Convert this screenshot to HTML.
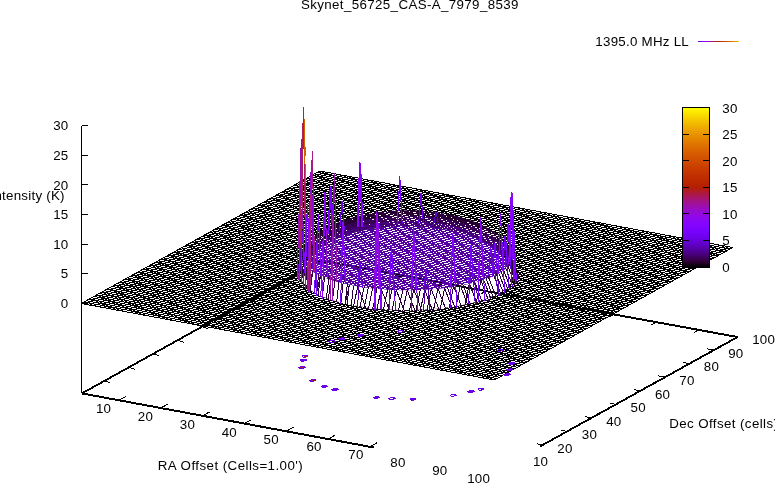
<!DOCTYPE html>
<html><head><meta charset="utf-8"><title>Skynet_56725_CAS-A_7979_8539</title>
<style>
html,body{margin:0;padding:0;background:#fff;}
body{width:775px;height:483px;position:relative;overflow:hidden;font-family:"Liberation Sans",sans-serif;color:#000;}
.t{position:absolute;white-space:nowrap;line-height:15px;height:15px;}
</style></head><body>
<svg width="775" height="483" viewBox="0 0 775 483" style="position:absolute;left:0;top:0">
<defs>
<clipPath id="cm"><path clip-rule="evenodd" d="M-10 -10 L785 -10 L785 493 L-10 493 Z M301 276 L301.1 277.2 L301.2 278.3 L301.6 279.5 L302 280.7 L302.6 281.9 L303.3 283 L304.1 284.2 L305.1 285.4 L306.2 286.5 L307.4 287.6 L308.7 288.7 L310.2 289.8 L311.7 290.9 L313.4 291.9 L315.2 293 L317.1 294 L319.1 295 L321.2 296 L323.5 296.9 L325.8 297.8 L328.2 298.7 L330.7 299.6 L333.4 300.5 L336.1 301.3 L338.9 302 L341.7 302.8 L344.7 303.5 L347.7 304.2 L350.8 304.8 L354 305.4 L357.3 306 L360.6 306.6 L363.9 307.1 L367.3 307.5 L370.8 308 L374.3 308.3 L377.8 308.7 L381.4 309 L385 309.3 L388.6 309.5 L392.3 309.7 L396 309.8 L399.7 309.9 L403.4 310 L407.1 310 L410.8 310 L414.5 309.9 L418.1 309.8 L421.8 309.7 L425.5 309.5 L429.1 309.3 L432.7 309 L436.3 308.7 L439.8 308.4 L443.3 308 L446.8 307.5 L450.2 307.1 L453.6 306.6 L456.9 306 L460.1 305.5 L463.3 304.8 L466.4 304.2 L469.4 303.5 L472.4 302.8 L475.3 302.1 L478 301.3 L480.8 300.5 L483.4 299.6 L485.9 298.8 L488.3 297.9 L490.7 296.9 L492.9 296 L495 295 L497 294 L498.9 293 L500.7 292 L502.4 290.9 L504 289.8 L505.4 288.7 L506.8 287.6 L508 286.5 L509 285.4 L510 284.2 L510.8 283.1 L511.5 281.9 L512.1 280.7 L512.6 279.5 L512.9 278.4 L513.1 277.2 L513.2 276 L513.2 276 L513.1 274.5 L512.9 273 L512.6 271.4 L512.1 269.9 L511.6 268.4 L510.8 267 L510 265.5 L509.1 264 L508 262.5 L506.8 260.7 L505.4 258.8 L504 256.9 L502.4 255 L500.8 253 L499 251 L497.1 249.5 L495 248.1 L492.9 246.6 L490.7 245.2 L488.4 243.9 L485.9 242.5 L483.4 241.3 L480.8 240 L478.1 238.8 L475.3 237.7 L472.4 236.6 L469.4 235.5 L466.4 234.5 L463.3 233.6 L460.1 232.7 L456.9 231.8 L453.6 231 L450.2 230.3 L446.8 229.6 L443.4 229 L439.9 228.4 L436.3 227.9 L432.8 227.4 L429.2 227 L425.5 226.7 L421.9 226.4 L418.2 226.2 L414.5 226.1 L410.8 226 L407.1 225.9 L403.4 226 L399.7 226.1 L396 226.2 L392.3 226.4 L388.7 226.7 L385 227 L381.4 227.4 L377.9 227.9 L374.3 228.4 L370.8 229 L367.4 229.6 L363.9 230.3 L360.6 231 L357.3 231.8 L354 232.7 L350.9 233.6 L347.8 234.5 L344.7 235.5 L341.8 236.6 L338.9 237.7 L336.1 238.8 L333.4 240 L330.8 241.3 L328.2 242.5 L325.8 243.9 L323.5 245.2 L321.3 246.6 L319.1 248.1 L317.1 249.5 L315.2 251 L313.4 253 L311.7 255 L310.2 256.9 L308.7 258.8 L307.4 260.6 L306.2 262.5 L305.1 264 L304.1 265.5 L303.3 266.9 L302.6 268.4 L302 269.9 L301.6 271.4 L301.2 272.9 L301.1 274.5 L301 276 Z"/></clipPath>
<clipPath id="ct"><polygon points="301,256.3 301.1,257.5 301.2,258.6 301.6,259.8 302,261 302.6,262.2 303.3,263.3 304.1,264.5 305.1,265.7 306.2,266.8 307.4,267.9 308.7,269 310.2,270.1 311.7,271.2 313.4,272.2 315.2,273.3 317.1,274.3 319.1,275.3 321.2,276.3 323.5,277.2 325.8,278.1 328.2,279 330.7,279.9 333.4,280.8 336.1,281.6 338.9,282.3 341.7,283.1 344.7,283.8 347.7,284.5 350.8,285.1 354,285.7 357.3,286.3 360.6,286.9 363.9,287.4 367.3,287.8 370.8,288.3 374.3,288.6 377.8,289 381.4,289.3 385,289.6 388.6,289.8 392.3,290 396,290.1 399.7,290.2 403.4,290.3 407.1,290.3 410.8,290.3 414.5,290.2 418.1,290.1 421.8,290 425.5,289.8 429.1,289.6 432.7,289.3 436.3,289 439.8,288.7 443.3,288.3 446.8,287.8 450.2,287.4 453.6,286.9 456.9,286.3 460.1,285.8 463.3,285.1 466.4,284.5 469.4,283.8 472.4,283.1 475.3,282.4 478,281.6 480.8,280.8 483.4,279.9 485.9,279.1 488.3,278.2 490.7,277.2 492.9,276.3 495,275.3 497,274.3 498.9,273.3 500.7,272.3 502.4,271.2 504,270.1 505.4,269 506.8,267.9 508,266.8 509,265.7 510,264.5 510.8,263.4 511.5,262.2 512.1,261 512.6,259.8 512.9,258.7 513.1,257.5 513.2,256.3 513.2,256.3 513.1,255.1 512.9,253.9 512.6,252.7 512.1,251.5 511.6,250.4 510.8,249.2 510,248 509.1,246.9 508,245.6 506.8,244 505.4,242.3 504,240.7 502.4,239.1 500.8,237.6 499,236 497.1,234.5 495,233.1 492.9,231.6 490.7,230.2 488.4,228.9 485.9,227.5 483.4,226.3 480.8,225 478.1,223.8 475.3,222.7 472.4,221.6 469.4,220.5 466.4,219.5 463.3,218.6 460.1,217.7 456.9,216.8 453.6,216 450.2,215.3 446.8,214.6 443.4,214 439.9,213.4 436.3,212.9 432.8,212.4 429.2,212 425.5,211.7 421.9,211.4 418.2,211.2 414.5,211.1 410.8,211 407.1,210.9 403.4,211 399.7,211.1 396,211.2 392.3,211.4 388.7,211.7 385,212 381.4,212.4 377.9,212.9 374.3,213.4 370.8,214 367.4,214.6 363.9,215.3 360.6,216 357.3,216.8 354,217.7 350.9,218.6 347.8,219.5 344.7,220.5 341.8,221.6 338.9,222.7 336.1,223.8 333.4,225 330.8,226.3 328.2,227.5 325.8,228.9 323.5,230.2 321.3,231.6 319.1,233.1 317.1,234.5 315.2,236 313.4,237.6 311.7,239.1 310.2,240.7 308.7,242.3 307.4,243.9 306.2,245.6 305.1,246.9 304.1,248 303.3,249.2 302.6,250.4 302,251.5 301.6,252.7 301.2,253.9 301.1,255.1 301,256.3"/></clipPath>
<clipPath id="cb0"><polygon points="513.2,256.3 513.1,255.1 512.9,253.8 512.6,252.6 512.1,251.4 511.6,250.2 510.8,249 510,247.8 509.1,246.6 508,245.2 506.8,243.6 505.4,241.9 504,240.2 502.4,238.6 500.8,237 499,235.4 497.1,233.9 495,232.5 492.9,231 490.7,229.6 488.4,228.3 485.9,226.9 483.4,225.7 480.8,224.4 478.1,223.2 475.3,222.1 472.4,221 469.4,219.9 466.4,218.9 463.3,218 460.1,217.1 456.9,216.2 453.6,215.4 450.2,214.7 446.8,214 443.4,213.4 439.9,212.8 436.3,212.3 432.8,211.8 429.2,211.4 425.5,211.1 421.9,210.8 418.2,210.6 414.5,210.5 410.8,210.4 407.1,210.3 403.4,210.4 399.7,210.5 396,210.6 392.3,210.8 388.7,211.1 385,211.4 381.4,211.8 377.9,212.3 374.3,212.8 370.8,213.4 367.4,214 363.9,214.7 360.6,215.4 357.3,216.2 354,217.1 350.9,218 347.8,218.9 344.7,219.9 341.8,221 338.9,222.1 336.1,223.2 333.4,224.4 330.8,225.7 328.2,226.9 325.8,228.3 323.5,229.6 321.3,231 319.1,232.5 317.1,233.9 315.2,235.4 313.4,237 311.7,238.6 310.2,240.2 308.7,241.9 307.4,243.5 306.2,245.2 305.1,246.6 304.1,247.7 303.3,248.9 302.6,250.1 302,251.4 301.6,252.6 301.2,253.8 301.1,255 301,256.3 301,256.3 301.1,255.4 301.2,254.6 301.6,253.8 302,252.9 302.6,252.1 303.3,251.3 304.1,250.5 305.1,249.6 306.2,248.7 307.4,247.4 308.7,246.1 310.2,244.8 311.7,243.5 313.4,242.2 315.2,241 317.1,239.5 319.1,238.1 321.3,236.6 323.5,235.2 325.8,233.9 328.2,232.5 330.8,231.3 333.4,230 336.1,228.8 338.9,227.7 341.8,226.6 344.7,225.5 347.8,224.5 350.9,223.6 354,222.7 357.3,221.8 360.6,221 363.9,220.3 367.4,219.6 370.8,219 374.3,218.4 377.9,217.9 381.4,217.4 385,217 388.7,216.7 392.3,216.4 396,216.2 399.7,216.1 403.4,216 407.1,215.9 410.8,216 414.5,216.1 418.2,216.2 421.9,216.4 425.5,216.7 429.2,217 432.8,217.4 436.3,217.9 439.9,218.4 443.4,219 446.8,219.6 450.2,220.3 453.6,221 456.9,221.8 460.1,222.7 463.3,223.6 466.4,224.5 469.4,225.5 472.4,226.6 475.3,227.7 478.1,228.8 480.8,230 483.4,231.3 485.9,232.5 488.4,233.9 490.7,235.2 492.9,236.6 495,238.1 497.1,239.5 499,241 500.8,242.3 502.4,243.5 504,244.8 505.4,246.1 506.8,247.4 508,248.7 509.1,249.7 510,250.5 510.8,251.3 511.6,252.1 512.1,252.9 512.6,253.8 512.9,254.6 513.1,255.4 513.2,256.3"/></clipPath>
<clipPath id="cb1"><polygon points="513.2,256.3 513.1,255.4 512.9,254.6 512.6,253.8 512.1,252.9 511.6,252.1 510.8,251.3 510,250.5 509.1,249.7 508,248.7 506.8,247.4 505.4,246.1 504,244.8 502.4,243.5 500.8,242.3 499,241 497.1,239.5 495,238.1 492.9,236.6 490.7,235.2 488.4,233.9 485.9,232.5 483.4,231.3 480.8,230 478.1,228.8 475.3,227.7 472.4,226.6 469.4,225.5 466.4,224.5 463.3,223.6 460.1,222.7 456.9,221.8 453.6,221 450.2,220.3 446.8,219.6 443.4,219 439.9,218.4 436.3,217.9 432.8,217.4 429.2,217 425.5,216.7 421.9,216.4 418.2,216.2 414.5,216.1 410.8,216 407.1,215.9 403.4,216 399.7,216.1 396,216.2 392.3,216.4 388.7,216.7 385,217 381.4,217.4 377.9,217.9 374.3,218.4 370.8,219 367.4,219.6 363.9,220.3 360.6,221 357.3,221.8 354,222.7 350.9,223.6 347.8,224.5 344.7,225.5 341.8,226.6 338.9,227.7 336.1,228.8 333.4,230 330.8,231.3 328.2,232.5 325.8,233.9 323.5,235.2 321.3,236.6 319.1,238.1 317.1,239.5 315.2,241 313.4,242.2 311.7,243.5 310.2,244.8 308.7,246.1 307.4,247.4 306.2,248.7 305.1,249.6 304.1,250.5 303.3,251.3 302.6,252.1 302,252.9 301.6,253.8 301.2,254.6 301.1,255.4 301,256.3 301,256.3 301.1,255.8 301.2,255.3 301.6,254.8 302,254.3 302.6,253.8 303.3,253.3 304.1,252.9 305.1,252.4 306.2,251.8 307.4,250.8 308.7,249.8 310.2,248.8 311.7,247.9 313.4,246.9 315.2,246 317.1,244.5 319.1,243.1 321.3,241.6 323.5,240.2 325.8,238.9 328.2,237.5 330.8,236.3 333.4,235 336.1,233.8 338.9,232.7 341.8,231.6 344.7,230.5 347.8,229.5 350.9,228.6 354,227.7 357.3,226.8 360.6,226 363.9,225.3 367.4,224.6 370.8,224 374.3,223.4 377.9,222.9 381.4,222.4 385,222 388.7,221.7 392.3,221.4 396,221.2 399.7,221.1 403.4,221 407.1,220.9 410.8,221 414.5,221.1 418.2,221.2 421.9,221.4 425.5,221.7 429.2,222 432.8,222.4 436.3,222.9 439.9,223.4 443.4,224 446.8,224.6 450.2,225.3 453.6,226 456.9,226.8 460.1,227.7 463.3,228.6 466.4,229.5 469.4,230.5 472.4,231.6 475.3,232.7 478.1,233.8 480.8,235 483.4,236.3 485.9,237.5 488.4,238.9 490.7,240.2 492.9,241.6 495,243.1 497.1,244.5 499,246 500.8,247 502.4,247.9 504,248.9 505.4,249.8 506.8,250.8 508,251.8 509.1,252.4 510,252.9 510.8,253.4 511.6,253.8 512.1,254.3 512.6,254.8 512.9,255.3 513.1,255.8 513.2,256.3"/></clipPath>
<clipPath id="cb2"><polygon points="513.2,256.3 513.1,255.8 512.9,255.3 512.6,254.8 512.1,254.3 511.6,253.8 510.8,253.4 510,252.9 509.1,252.4 508,251.8 506.8,250.8 505.4,249.8 504,248.9 502.4,247.9 500.8,247 499,246 497.1,244.5 495,243.1 492.9,241.6 490.7,240.2 488.4,238.9 485.9,237.5 483.4,236.3 480.8,235 478.1,233.8 475.3,232.7 472.4,231.6 469.4,230.5 466.4,229.5 463.3,228.6 460.1,227.7 456.9,226.8 453.6,226 450.2,225.3 446.8,224.6 443.4,224 439.9,223.4 436.3,222.9 432.8,222.4 429.2,222 425.5,221.7 421.9,221.4 418.2,221.2 414.5,221.1 410.8,221 407.1,220.9 403.4,221 399.7,221.1 396,221.2 392.3,221.4 388.7,221.7 385,222 381.4,222.4 377.9,222.9 374.3,223.4 370.8,224 367.4,224.6 363.9,225.3 360.6,226 357.3,226.8 354,227.7 350.9,228.6 347.8,229.5 344.7,230.5 341.8,231.6 338.9,232.7 336.1,233.8 333.4,235 330.8,236.3 328.2,237.5 325.8,238.9 323.5,240.2 321.3,241.6 319.1,243.1 317.1,244.5 315.2,246 313.4,246.9 311.7,247.9 310.2,248.8 308.7,249.8 307.4,250.8 306.2,251.8 305.1,252.4 304.1,252.9 303.3,253.3 302.6,253.8 302,254.3 301.6,254.8 301.2,255.3 301.1,255.8 301,256.3 301,256.3 301.1,256.1 301.2,256 301.6,255.8 302,255.7 302.6,255.6 303.3,255.4 304.1,255.3 305.1,255.2 306.2,254.9 307.4,254.2 308.7,253.6 310.2,252.9 311.7,252.3 313.4,251.6 315.2,251 317.1,249.5 319.1,248.1 321.3,246.6 323.5,245.2 325.8,243.9 328.2,242.5 330.8,241.3 333.4,240 336.1,238.8 338.9,237.7 341.8,236.6 344.7,235.5 347.8,234.5 350.9,233.6 354,232.7 357.3,231.8 360.6,231 363.9,230.3 367.4,229.6 370.8,229 374.3,228.4 377.9,227.9 381.4,227.4 385,227 388.7,226.7 392.3,226.4 396,226.2 399.7,226.1 403.4,226 407.1,225.9 410.8,226 414.5,226.1 418.2,226.2 421.9,226.4 425.5,226.7 429.2,227 432.8,227.4 436.3,227.9 439.9,228.4 443.4,229 446.8,229.6 450.2,230.3 453.6,231 456.9,231.8 460.1,232.7 463.3,233.6 466.4,234.5 469.4,235.5 472.4,236.6 475.3,237.7 478.1,238.8 480.8,240 483.4,241.3 485.9,242.5 488.4,243.9 490.7,245.2 492.9,246.6 495,248.1 497.1,249.5 499,251 500.8,251.7 502.4,252.3 504,252.9 505.4,253.6 506.8,254.2 508,254.9 509.1,255.2 510,255.3 510.8,255.4 511.6,255.6 512.1,255.7 512.6,255.9 512.9,256 513.1,256.1 513.2,256.3"/></clipPath>
<clipPath id="cb3"><polygon points="513.2,256.3 513.1,256.1 512.9,256 512.6,255.9 512.1,255.7 511.6,255.6 510.8,255.4 510,255.3 509.1,255.2 508,254.9 506.8,254.2 505.4,253.6 504,252.9 502.4,252.3 500.8,251.7 499,251 497.1,249.5 495,248.1 492.9,246.6 490.7,245.2 488.4,243.9 485.9,242.5 483.4,241.3 480.8,240 478.1,238.8 475.3,237.7 472.4,236.6 469.4,235.5 466.4,234.5 463.3,233.6 460.1,232.7 456.9,231.8 453.6,231 450.2,230.3 446.8,229.6 443.4,229 439.9,228.4 436.3,227.9 432.8,227.4 429.2,227 425.5,226.7 421.9,226.4 418.2,226.2 414.5,226.1 410.8,226 407.1,225.9 403.4,226 399.7,226.1 396,226.2 392.3,226.4 388.7,226.7 385,227 381.4,227.4 377.9,227.9 374.3,228.4 370.8,229 367.4,229.6 363.9,230.3 360.6,231 357.3,231.8 354,232.7 350.9,233.6 347.8,234.5 344.7,235.5 341.8,236.6 338.9,237.7 336.1,238.8 333.4,240 330.8,241.3 328.2,242.5 325.8,243.9 323.5,245.2 321.3,246.6 319.1,248.1 317.1,249.5 315.2,251 313.4,251.6 311.7,252.3 310.2,252.9 308.7,253.6 307.4,254.2 306.2,254.9 305.1,255.2 304.1,255.3 303.3,255.4 302.6,255.6 302,255.7 301.6,255.8 301.2,256 301.1,256.1 301,256.3 301,256.3 301.1,256.7 301.2,257.1 301.6,257.5 302,257.9 302.6,258.3 303.3,258.8 304.1,259.2 305.1,259.6 306.2,259.8 307.4,259.7 308.7,259.5 310.2,259.4 311.7,259.3 313.4,259.1 315.2,259 317.1,257.5 319.1,256.1 321.3,254.6 323.5,253.2 325.8,251.9 328.2,250.5 330.8,249.3 333.4,248 336.1,246.8 338.9,245.7 341.8,244.6 344.7,243.5 347.8,242.5 350.9,241.6 354,240.7 357.3,239.8 360.6,239 363.9,238.3 367.4,237.6 370.8,237 374.3,236.4 377.9,235.9 381.4,235.4 385,235 388.7,234.7 392.3,234.4 396,234.2 399.7,234.1 403.4,234 407.1,233.9 410.8,234 414.5,234.1 418.2,234.2 421.9,234.4 425.5,234.7 429.2,235 432.8,235.4 436.3,235.9 439.9,236.4 443.4,237 446.8,237.6 450.2,238.3 453.6,239 456.9,239.8 460.1,240.7 463.3,241.6 466.4,242.5 469.4,243.5 472.4,244.6 475.3,245.7 478.1,246.8 480.8,248 483.4,249.3 485.9,250.5 488.4,251.9 490.7,253.2 492.9,254.6 495,256.1 497.1,257.5 499,259 500.8,259.2 502.4,259.3 504,259.4 505.4,259.6 506.8,259.7 508,259.8 509.1,259.6 510,259.2 510.8,258.8 511.6,258.4 512.1,257.9 512.6,257.5 512.9,257.1 513.1,256.7 513.2,256.3"/></clipPath>
<linearGradient id="cbg" x1="0" y1="1" x2="0" y2="0">
<stop offset="0.0000" stop-color="#000000"/>
<stop offset="0.0333" stop-color="#2f0035"/>
<stop offset="0.0667" stop-color="#420068"/>
<stop offset="0.1000" stop-color="#510096"/>
<stop offset="0.1333" stop-color="#5d01be"/>
<stop offset="0.1667" stop-color="#6801dd"/>
<stop offset="0.2000" stop-color="#7202f3"/>
<stop offset="0.2333" stop-color="#7b03fe"/>
<stop offset="0.2667" stop-color="#8405fe"/>
<stop offset="0.3000" stop-color="#8c07f3"/>
<stop offset="0.3333" stop-color="#9309dd"/>
<stop offset="0.3667" stop-color="#9a0dbe"/>
<stop offset="0.4000" stop-color="#a11096"/>
<stop offset="0.4333" stop-color="#a81568"/>
<stop offset="0.4667" stop-color="#ae1a35"/>
<stop offset="0.5000" stop-color="#b42000"/>
<stop offset="0.5333" stop-color="#ba2700"/>
<stop offset="0.5667" stop-color="#c02e00"/>
<stop offset="0.6000" stop-color="#c63700"/>
<stop offset="0.6333" stop-color="#cb4100"/>
<stop offset="0.6667" stop-color="#d04c00"/>
<stop offset="0.7000" stop-color="#d55700"/>
<stop offset="0.7333" stop-color="#da6500"/>
<stop offset="0.7667" stop-color="#df7300"/>
<stop offset="0.8000" stop-color="#e48300"/>
<stop offset="0.8333" stop-color="#e99400"/>
<stop offset="0.8667" stop-color="#eda600"/>
<stop offset="0.9000" stop-color="#f2ba00"/>
<stop offset="0.9333" stop-color="#f6cf00"/>
<stop offset="0.9667" stop-color="#fbe600"/>
<stop offset="1.0000" stop-color="#ffff00"/>
</linearGradient>
<linearGradient id="lg" x1="0" y1="0" x2="1" y2="0">
<stop offset="0.00" stop-color="#6801dd"/>
<stop offset="0.10" stop-color="#7d04fe"/>
<stop offset="0.20" stop-color="#8f08eb"/>
<stop offset="0.30" stop-color="#9f0fa7"/>
<stop offset="0.40" stop-color="#ad193f"/>
<stop offset="0.50" stop-color="#ba2700"/>
<stop offset="0.60" stop-color="#c73900"/>
<stop offset="0.70" stop-color="#d25000"/>
<stop offset="0.80" stop-color="#dd6d00"/>
<stop offset="0.90" stop-color="#e89000"/>
<stop offset="1.00" stop-color="#f2ba00"/>
</linearGradient>
</defs>
<g stroke="#000" stroke-width="1" fill="none" shape-rendering="crispEdges">
<path d="M81.5 125.5L81.5 392.9"/>
<path d="M81.5 125.5L88 125.5"/>
<path d="M81.5 155.2L88 155.2"/>
<path d="M81.5 184.8L88 184.8"/>
<path d="M81.5 214.4L88 214.4"/>
<path d="M81.5 244.1L88 244.1"/>
<path d="M81.5 273.8L88 273.8"/>
<path d="M81.5 303.4L88 303.4"/>
<path d="M81.9 392.9L320.5 260.4"/>
<path d="M81.9 393.9L320.5 261.4"/>
<path d="M320.5 260.4L737.6 336.5"/>
<path d="M320.5 261.4L737.6 337.5"/>
<path d="M81.9 392.9L373.8 447"/>
<path d="M81.9 393.9L373.8 448"/>
<path d="M539.5 446.2L737.6 336.5"/>
<path d="M539.5 447.2L737.6 337.5"/>
<path d="M119.8 399.8L125.8 396.5"/>
<path d="M161.7 407.5L167.7 404.2"/>
<path d="M203.6 415.2L209.6 411.9"/>
<path d="M245.5 422.9L251.5 419.6"/>
<path d="M287.4 430.6L293.4 427.3"/>
<path d="M329.3 438.3L335.3 435"/>
<path d="M371.2 446L377.2 442.7"/>
<path d="M104.2 380.5L110.4 382.8"/>
<path d="M128.6 367L134.8 369.3"/>
<path d="M153 353.5L159.2 355.8"/>
<path d="M177.4 340L183.6 342.3"/>
<path d="M201.8 326.5L208 328.8"/>
<path d="M226.2 313L232.4 315.3"/>
<path d="M250.6 299.5L256.8 301.8"/>
<path d="M275 286L281.2 288.3"/>
<path d="M299.4 272.5L305.6 274.8"/>
<path d="M358.8 267.4L353.4 270.5"/>
<path d="M401.4 275.2L396 278.3"/>
<path d="M443.9 282.9L438.5 286"/>
<path d="M486.5 290.7L481.1 293.8"/>
<path d="M529 298.4L523.6 301.6"/>
<path d="M571.6 306.2L566.2 309.3"/>
<path d="M614.2 314L608.8 317.1"/>
<path d="M656.7 321.7L651.3 324.8"/>
<path d="M699.3 329.5L693.9 332.6"/>
<path d="M542.7 445L536.5 443.7"/>
<path d="M567.1 431.4L560.9 430.1"/>
<path d="M591.4 417.9L585.2 416.6"/>
<path d="M615.8 404.3L609.6 403"/>
<path d="M640.1 390.8L633.9 389.5"/>
<path d="M664.5 377.2L658.3 375.9"/>
<path d="M688.9 363.6L682.7 362.3"/>
<path d="M713.2 350.1L707 348.8"/>
<path d="M737.6 336.5L731.4 335.2"/>
</g>
<g stroke="#000" stroke-width="1" fill="none" shape-rendering="crispEdges" clip-path="url(#cm)">
<path d="M81.3 303.5L494.3 380M83.9 302.1L496.8 378.6M86.4 300.7L499.4 377.2M89 299.2L502 375.8M91.6 297.8L504.5 374.3M94.1 296.4L507.1 372.9M96.7 295L509.7 371.5M99.3 293.5L512.2 370.1M101.8 292.1L514.8 368.6M104.4 290.7L517.4 367.2M106.9 289.3L519.9 365.8M109.5 287.8L522.5 364.4M112.1 286.4L525.1 362.9M114.6 285L527.6 361.5M117.2 283.6L530.2 360.1M119.8 282.1L532.7 358.7M122.3 280.7L535.3 357.2M124.9 279.3L537.9 355.8M127.5 277.9L540.4 354.4M130 276.4L543 353M132.6 275L545.6 351.5M135.2 273.6L548.1 350.1M137.7 272.2L550.7 348.7M140.3 270.7L553.3 347.3M142.9 269.3L555.8 345.8M145.4 267.9L558.4 344.4M148 266.5L561 343M150.6 265L563.5 341.6M153.1 263.6L566.1 340.1M155.7 262.2L568.7 338.7M158.2 260.8L571.2 337.3M160.8 259.3L573.8 335.9M163.4 257.9L576.3 334.4M165.9 256.5L578.9 333M168.5 255.1L581.5 331.6M171.1 253.6L584 330.2M173.6 252.2L586.6 328.7M176.2 250.8L589.2 327.3M178.8 249.4L591.7 325.9M181.3 247.9L594.3 324.5M183.9 246.5L596.9 323.1M186.5 245.1L599.4 321.6M189 243.7L602 320.2M191.6 242.2L604.6 318.8M194.2 240.8L607.1 317.4M196.7 239.4L609.7 315.9M199.3 238L612.3 314.5M201.8 236.5L614.8 313.1M204.4 235.1L617.4 311.7M207 233.7L620 310.2M209.5 232.3L622.5 308.8M212.1 230.8L625.1 307.4M214.7 229.4L627.6 306M217.2 228L630.2 304.5M219.8 226.6L632.8 303.1M222.4 225.1L635.3 301.7M224.9 223.7L637.9 300.3M227.5 222.3L640.5 298.8M230.1 220.9L643 297.4M232.6 219.4L645.6 296M235.2 218L648.2 294.6M237.8 216.6L650.7 293.1M240.3 215.2L653.3 291.7M242.9 213.7L655.9 290.3M245.5 212.3L658.4 288.9M248 210.9L661 287.4M250.6 209.5L663.6 286M253.1 208L666.1 284.6M255.7 206.6L668.7 283.2M258.3 205.2L671.2 281.7M260.8 203.8L673.8 280.3M263.4 202.3L676.4 278.9M266 200.9L678.9 277.5M268.5 199.5L681.5 276M271.1 198.1L684.1 274.6M273.7 196.6L686.6 273.2M276.2 195.2L689.2 271.8M278.8 193.8L691.8 270.3M281.4 192.4L694.3 268.9M283.9 190.9L696.9 267.5M286.5 189.5L699.5 266.1M289.1 188.1L702 264.6M291.6 186.7L704.6 263.2M294.2 185.3L707.2 261.8M296.7 183.8L709.7 260.4M299.3 182.4L712.3 258.9M301.9 181L714.8 257.5M304.4 179.6L717.4 256.1M307 178.1L720 254.7M309.6 176.7L722.5 253.2M312.1 175.3L725.1 251.8M314.7 173.9L727.7 250.4M317.3 172.4L730.2 249M319.8 171L732.8 247.5M81.3 303.5L319.8 171M85.7 304.3L324.3 171.8M90.2 305.1L328.7 172.6M94.6 306L333.2 173.5M99.1 306.8L337.6 174.3M103.5 307.6L342 175.1M107.9 308.4L346.5 175.9M112.4 309.3L350.9 176.8M116.8 310.1L355.4 177.6M121.3 310.9L359.8 178.4M125.7 311.7L364.2 179.2M130.1 312.6L368.7 180.1M134.6 313.4L373.1 180.9M139 314.2L377.6 181.7M143.5 315L382 182.5M147.9 315.8L386.4 183.3M152.3 316.7L390.9 184.2M156.8 317.5L395.3 185M161.2 318.3L399.8 185.8M165.7 319.1L404.2 186.6M170.1 320L408.6 187.5M174.6 320.8L413.1 188.3M179 321.6L417.5 189.1M183.4 322.4L422 189.9M187.9 323.3L426.4 190.8M192.3 324.1L430.8 191.6M196.8 324.9L435.3 192.4M201.2 325.7L439.7 193.2M205.6 326.5L444.2 194M210.1 327.4L448.6 194.9M214.5 328.2L453 195.7M219 329L457.5 196.5M223.4 329.8L461.9 197.3M227.8 330.7L466.4 198.2M232.3 331.5L470.8 199M236.7 332.3L475.3 199.8M241.2 333.1L479.7 200.6M245.6 334L484.1 201.5M250 334.8L488.6 202.3M254.5 335.6L493 203.1M258.9 336.4L497.5 203.9M263.4 337.2L501.9 204.7M267.8 338.1L506.3 205.6M272.2 338.9L510.8 206.4M276.7 339.7L515.2 207.2M281.1 340.5L519.7 208M285.6 341.4L524.1 208.9M290 342.2L528.5 209.7M294.4 343L533 210.5M298.9 343.8L537.4 211.3M303.3 344.6L541.9 212.2M307.8 345.5L546.3 213M312.2 346.3L550.7 213.8M316.6 347.1L555.2 214.6M321.1 347.9L559.6 215.4M325.5 348.8L564.1 216.3M330 349.6L568.5 217.1M334.4 350.4L572.9 217.9M338.9 351.2L577.4 218.7M343.3 352.1L581.8 219.6M347.7 352.9L586.3 220.4M352.2 353.7L590.7 221.2M356.6 354.5L595.1 222M361.1 355.3L599.6 222.9M365.5 356.2L604 223.7M369.9 357L608.5 224.5M374.4 357.8L612.9 225.3M378.8 358.6L617.3 226.1M383.3 359.5L621.8 227M387.7 360.3L626.2 227.8M392.1 361.1L630.7 228.6M396.6 361.9L635.1 229.4M401 362.8L639.6 230.3M405.5 363.6L644 231.1M409.9 364.4L648.4 231.9M414.3 365.2L652.9 232.7M418.8 366L657.3 233.6M423.2 366.9L661.8 234.4M427.7 367.7L666.2 235.2M432.1 368.5L670.6 236M436.5 369.3L675.1 236.8M441 370.2L679.5 237.7M445.4 371L684 238.5M449.9 371.8L688.4 239.3M454.3 372.6L692.8 240.1M458.7 373.5L697.3 241M463.2 374.3L701.7 241.8M467.6 375.1L706.2 242.6M472.1 375.9L710.6 243.4M476.5 376.7L715 244.3M481 377.6L719.5 245.1M485.4 378.4L723.9 245.9M489.8 379.2L728.4 246.7M494.3 380L732.8 247.5"/>
</g>
<g stroke="#5400a3" stroke-width="1" fill="none" shape-rendering="crispEdges" clip-path="url(#ct)">
<path d="M214.3 272L458.7 317.3M216.7 270.7L461.1 316M219.1 269.3L463.5 314.6M221.6 268L466 313.3M224 266.6L468.4 311.9M226.4 265.3L470.8 310.6M228.9 263.9L473.3 309.2M231.3 262.6L475.7 307.9M233.7 261.2L478.1 306.5M236.2 259.9L480.6 305.2M238.6 258.5L483 303.8M241 257.2L485.4 302.5M243.5 255.8L487.9 301.1M245.9 254.5L490.3 299.8M248.3 253.1L492.7 298.4M250.8 251.8L495.2 297M253.2 250.4L497.6 295.7M255.6 249L500.1 294.3M258.1 247.7L502.5 293M260.5 246.3L504.9 291.6M262.9 245L507.4 290.3M265.4 243.6L509.8 288.9M267.8 242.3L512.2 287.6M270.2 240.9L514.7 286.2M272.7 239.6L517.1 284.9M275.1 238.2L519.5 283.5M277.5 236.9L522 282.2M280 235.5L524.4 280.8M282.4 234.2L526.8 279.5M284.8 232.8L529.3 278.1M287.3 231.5L531.7 276.8M289.7 230.1L534.1 275.4M292.1 228.8L536.6 274.1M294.6 227.4L539 272.7M297 226.1L541.4 271.4M299.4 224.7L543.9 270M301.9 223.4L546.3 268.7M304.3 222L548.7 267.3M306.8 220.7L551.2 266M309.2 219.3L553.6 264.6M311.6 217.9L556 263.2M314.1 216.6L558.5 261.9M316.5 215.2L560.9 260.5M318.9 213.9L563.3 259.2M321.4 212.5L565.8 257.8M323.8 211.2L568.2 256.5M326.2 209.8L570.6 255.1M328.7 208.5L573.1 253.8M331.1 207.1L575.5 252.4M333.5 205.8L577.9 251.1M336 204.4L580.4 249.7M338.4 203.1L582.8 248.4M340.8 201.7L585.2 247M343.3 200.4L587.7 245.7M345.7 199L590.1 244.3M348.1 197.7L592.5 243M350.6 196.3L595 241.6M353 195L597.4 240.3M355.4 193.6L599.8 238.9M357.9 192.3L602.3 237.6M360.3 190.9L604.7 236.2M362.7 189.6L607.1 234.9M365.2 188.2L609.6 233.5M367.6 186.9L612 232.2M370 185.5L614.4 230.8M372.5 184.1L616.9 229.4M374.9 182.8L619.3 228.1M214.3 272L374.9 182.8M218.5 272.8L379.1 183.6M222.7 273.6L383.3 184.4M226.9 274.4L387.5 185.1M231.1 275.2L391.8 185.9M235.3 275.9L396 186.7M239.5 276.7L400.2 187.5M243.8 277.5L404.4 188.3M248 278.3L408.6 189M252.2 279.1L412.8 189.8M256.4 279.8L417 190.6M260.6 280.6L421.3 191.4M264.8 281.4L425.5 192.2M269 282.2L429.7 193M273.3 283L433.9 193.7M277.5 283.7L438.1 194.5M281.7 284.5L442.3 195.3M285.9 285.3L446.5 196.1M290.1 286.1L450.8 196.9M294.3 286.9L455 197.6M298.5 287.6L459.2 198.4M302.8 288.4L463.4 199.2M307 289.2L467.6 200M311.2 290L471.8 200.8M315.4 290.8L476 201.5M319.6 291.6L480.3 202.3M323.8 292.3L484.5 203.1M328 293.1L488.7 203.9M332.3 293.9L492.9 204.7M336.5 294.7L497.1 205.4M340.7 295.5L501.3 206.2M344.9 296.2L505.5 207M349.1 297L509.8 207.8M353.3 297.8L514 208.6M357.5 298.6L518.2 209.4M361.8 299.4L522.4 210.1M366 300.1L526.6 210.9M370.2 300.9L530.8 211.7M374.4 301.7L535 212.5M378.6 302.5L539.2 213.3M382.8 303.3L543.5 214M387 304.1L547.7 214.8M391.2 304.8L551.9 215.6M395.5 305.6L556.1 216.4M399.7 306.4L560.3 217.2M403.9 307.2L564.5 217.9M408.1 308L568.7 218.7M412.3 308.7L573 219.5M416.5 309.5L577.2 220.3M420.7 310.3L581.4 221.1M425 311.1L585.6 221.8M429.2 311.9L589.8 222.6M433.4 312.6L594 223.4M437.6 313.4L598.2 224.2M441.8 314.2L602.5 225M446 315L606.7 225.8M450.2 315.8L610.9 226.5M454.5 316.5L615.1 227.3M458.7 317.3L619.3 228.1"/>
</g>
<g stroke="#2a0038" stroke-width="1" fill="none" shape-rendering="crispEdges" clip-path="url(#cb0)">
<path stroke="#1c0024" d="M246.6 242.9L583.7 305.4M249.1 241.5L586.2 304M251.7 240.1L588.8 302.6M254.2 238.7L591.4 301.1M256.8 237.2L593.9 299.7M259.4 235.8L596.5 298.3M261.9 234.4L599.1 296.9M264.5 233L601.6 295.4M267.1 231.5L604.2 294M269.6 230.1L606.8 292.6M272.2 228.7L609.3 291.2M274.8 227.3L611.9 289.7M277.3 225.8L614.5 288.3M279.9 224.4L617 286.9M282.5 223L619.6 285.5M285 221.6L622.1 284M287.6 220.1L624.7 282.6M290.2 218.7L627.3 281.2M292.7 217.3L629.8 279.8M295.3 215.9L632.4 278.3M297.9 214.4L635 276.9M300.4 213L637.5 275.5M303 211.6L640.1 274.1M305.5 210.2L642.7 272.6M308.1 208.7L645.2 271.2M310.7 207.3L647.8 269.8M313.2 205.9L650.4 268.4M315.8 204.5L652.9 266.9M318.4 203L655.5 265.5M320.9 201.6L658.1 264.1M323.5 200.2L660.6 262.7M326.1 198.8L663.2 261.2M328.6 197.3L665.7 259.8M331.2 195.9L668.3 258.4M333.8 194.5L670.9 257M336.3 193.1L673.4 255.5M338.9 191.6L676 254.1M341.5 190.2L678.6 252.7M344 188.8L681.1 251.3M346.6 187.4L683.7 249.8M349.1 185.9L686.3 248.4M351.7 184.5L688.8 247M354.3 183.1L691.4 245.6M356.8 181.7L694 244.1M359.4 180.2L696.5 242.7M362 178.8L699.1 241.3M247.4 244.1L364.2 179.2M251.8 245L368.7 180.1M256.3 245.8L373.1 180.9M260.7 246.6L377.6 181.7M265.2 247.4L382 182.5M269.6 248.2L386.4 183.3M274 249.1L390.9 184.2M278.5 249.9L395.3 185M282.9 250.7L399.8 185.8M287.4 251.5L404.2 186.6M291.8 252.4L408.6 187.5M296.3 253.2L413.1 188.3M300.7 254L417.5 189.1M305.1 254.8L422 189.9M309.6 255.7L426.4 190.8M314 256.5L430.8 191.6M318.5 257.3L435.3 192.4M322.9 258.1L439.7 193.2M327.3 258.9L444.2 194M331.8 259.8L448.6 194.9M336.2 260.6L453 195.7M340.7 261.4L457.5 196.5M345.1 262.2L461.9 197.3M349.5 263.1L466.4 198.2M354 263.9L470.8 199M358.4 264.7L475.3 199.8M362.9 265.5L479.7 200.6M367.3 266.4L484.1 201.5M371.7 267.2L488.6 202.3M376.2 268L493 203.1M380.6 268.8L497.5 203.9M385.1 269.6L501.9 204.7M389.5 270.5L506.3 205.6M393.9 271.3L510.8 206.4M398.4 272.1L515.2 207.2M402.8 272.9L519.7 208M407.3 273.8L524.1 208.9M411.7 274.6L528.5 209.7M416.1 275.4L533 210.5M420.6 276.2L537.4 211.3M425 277L541.9 212.2M429.5 277.9L546.3 213M433.9 278.7L550.7 213.8M438.3 279.5L555.2 214.6M442.8 280.3L559.6 215.4M447.2 281.2L564.1 216.3M451.7 282L568.5 217.1M456.1 282.8L572.9 217.9M460.6 283.6L577.4 218.7M465 284.5L581.8 219.6M469.4 285.3L586.3 220.4M473.9 286.1L590.7 221.2M478.3 286.9L595.1 222M482.8 287.7L599.6 222.9M487.2 288.6L604 223.7M491.6 289.4L608.5 224.5M496.1 290.2L612.9 225.3M500.5 291L617.3 226.1M505 291.9L621.8 227M509.4 292.7L626.2 227.8M513.8 293.5L630.7 228.6M518.3 294.3L635.1 229.4M522.7 295.2L639.6 230.3M527.2 296L644 231.1M531.6 296.8L648.4 231.9M536 297.6L652.9 232.7M540.5 298.4L657.3 233.6M544.9 299.3L661.8 234.4M549.4 300.1L666.2 235.2M553.8 300.9L670.6 236M558.2 301.7L675.1 236.8M562.7 302.6L679.5 237.7M567.1 303.4L684 238.5M571.6 304.2L688.4 239.3M576 305L692.8 240.1M580.4 305.9L697.3 241"/>
<path d="M214.3 272L458.7 317.3M216.7 270.7L461.1 316M219.1 269.3L463.5 314.6M221.6 268L466 313.3M224 266.6L468.4 311.9M226.4 265.3L470.8 310.6M228.9 263.9L473.3 309.2M231.3 262.6L475.7 307.9M233.7 261.2L478.1 306.5M236.2 259.9L480.6 305.2M238.6 258.5L483 303.8M241 257.2L485.4 302.5M243.5 255.8L487.9 301.1M245.9 254.5L490.3 299.8M248.3 253.1L492.7 298.4M250.8 251.8L495.2 297M253.2 250.4L497.6 295.7M255.6 249L500.1 294.3M258.1 247.7L502.5 293M260.5 246.3L504.9 291.6M262.9 245L507.4 290.3M265.4 243.6L509.8 288.9M267.8 242.3L512.2 287.6M270.2 240.9L514.7 286.2M272.7 239.6L517.1 284.9M275.1 238.2L519.5 283.5M277.5 236.9L522 282.2M280 235.5L524.4 280.8M282.4 234.2L526.8 279.5M284.8 232.8L529.3 278.1M287.3 231.5L531.7 276.8M289.7 230.1L534.1 275.4M292.1 228.8L536.6 274.1M294.6 227.4L539 272.7M297 226.1L541.4 271.4M299.4 224.7L543.9 270M301.9 223.4L546.3 268.7M304.3 222L548.7 267.3M306.8 220.7L551.2 266M309.2 219.3L553.6 264.6M311.6 217.9L556 263.2M314.1 216.6L558.5 261.9M316.5 215.2L560.9 260.5M318.9 213.9L563.3 259.2M321.4 212.5L565.8 257.8M323.8 211.2L568.2 256.5M326.2 209.8L570.6 255.1M328.7 208.5L573.1 253.8M331.1 207.1L575.5 252.4M333.5 205.8L577.9 251.1M336 204.4L580.4 249.7M338.4 203.1L582.8 248.4M340.8 201.7L585.2 247M343.3 200.4L587.7 245.7M345.7 199L590.1 244.3M348.1 197.7L592.5 243M350.6 196.3L595 241.6M353 195L597.4 240.3M355.4 193.6L599.8 238.9M357.9 192.3L602.3 237.6M360.3 190.9L604.7 236.2M362.7 189.6L607.1 234.9M365.2 188.2L609.6 233.5M367.6 186.9L612 232.2M370 185.5L614.4 230.8M372.5 184.1L616.9 229.4M374.9 182.8L619.3 228.1M214.3 272L374.9 182.8M218.5 272.8L379.1 183.6M222.7 273.6L383.3 184.4M226.9 274.4L387.5 185.1M231.1 275.2L391.8 185.9M235.3 275.9L396 186.7M239.5 276.7L400.2 187.5M243.8 277.5L404.4 188.3M248 278.3L408.6 189M252.2 279.1L412.8 189.8M256.4 279.8L417 190.6M260.6 280.6L421.3 191.4M264.8 281.4L425.5 192.2M269 282.2L429.7 193M273.3 283L433.9 193.7M277.5 283.7L438.1 194.5M281.7 284.5L442.3 195.3M285.9 285.3L446.5 196.1M290.1 286.1L450.8 196.9M294.3 286.9L455 197.6M298.5 287.6L459.2 198.4M302.8 288.4L463.4 199.2M307 289.2L467.6 200M311.2 290L471.8 200.8M315.4 290.8L476 201.5M319.6 291.6L480.3 202.3M323.8 292.3L484.5 203.1M328 293.1L488.7 203.9M332.3 293.9L492.9 204.7M336.5 294.7L497.1 205.4M340.7 295.5L501.3 206.2M344.9 296.2L505.5 207M349.1 297L509.8 207.8M353.3 297.8L514 208.6M357.5 298.6L518.2 209.4M361.8 299.4L522.4 210.1M366 300.1L526.6 210.9M370.2 300.9L530.8 211.7M374.4 301.7L535 212.5M378.6 302.5L539.2 213.3M382.8 303.3L543.5 214M387 304.1L547.7 214.8M391.2 304.8L551.9 215.6M395.5 305.6L556.1 216.4M399.7 306.4L560.3 217.2M403.9 307.2L564.5 217.9M408.1 308L568.7 218.7M412.3 308.7L573 219.5M416.5 309.5L577.2 220.3M420.7 310.3L581.4 221.1M425 311.1L585.6 221.8M429.2 311.9L589.8 222.6M433.4 312.6L594 223.4M437.6 313.4L598.2 224.2M441.8 314.2L602.5 225M446 315L606.7 225.8M450.2 315.8L610.9 226.5M454.5 316.5L615.1 227.3M458.7 317.3L619.3 228.1"/>
</g>
<g stroke="#3a005c" stroke-width="1" fill="none" shape-rendering="crispEdges" clip-path="url(#cb1)">
<path stroke="#2a0040" d="M246.6 242.9L583.7 305.4M249.1 241.5L586.2 304M251.7 240.1L588.8 302.6M254.2 238.7L591.4 301.1M256.8 237.2L593.9 299.7M259.4 235.8L596.5 298.3M261.9 234.4L599.1 296.9M264.5 233L601.6 295.4M267.1 231.5L604.2 294M269.6 230.1L606.8 292.6M272.2 228.7L609.3 291.2M274.8 227.3L611.9 289.7M277.3 225.8L614.5 288.3M279.9 224.4L617 286.9M282.5 223L619.6 285.5M285 221.6L622.1 284M287.6 220.1L624.7 282.6M290.2 218.7L627.3 281.2M292.7 217.3L629.8 279.8M295.3 215.9L632.4 278.3M297.9 214.4L635 276.9M300.4 213L637.5 275.5M303 211.6L640.1 274.1M305.5 210.2L642.7 272.6M308.1 208.7L645.2 271.2M310.7 207.3L647.8 269.8M313.2 205.9L650.4 268.4M315.8 204.5L652.9 266.9M318.4 203L655.5 265.5M320.9 201.6L658.1 264.1M323.5 200.2L660.6 262.7M326.1 198.8L663.2 261.2M328.6 197.3L665.7 259.8M331.2 195.9L668.3 258.4M333.8 194.5L670.9 257M336.3 193.1L673.4 255.5M338.9 191.6L676 254.1M341.5 190.2L678.6 252.7M344 188.8L681.1 251.3M346.6 187.4L683.7 249.8M349.1 185.9L686.3 248.4M351.7 184.5L688.8 247M354.3 183.1L691.4 245.6M356.8 181.7L694 244.1M359.4 180.2L696.5 242.7M362 178.8L699.1 241.3M247.4 244.1L364.2 179.2M251.8 245L368.7 180.1M256.3 245.8L373.1 180.9M260.7 246.6L377.6 181.7M265.2 247.4L382 182.5M269.6 248.2L386.4 183.3M274 249.1L390.9 184.2M278.5 249.9L395.3 185M282.9 250.7L399.8 185.8M287.4 251.5L404.2 186.6M291.8 252.4L408.6 187.5M296.3 253.2L413.1 188.3M300.7 254L417.5 189.1M305.1 254.8L422 189.9M309.6 255.7L426.4 190.8M314 256.5L430.8 191.6M318.5 257.3L435.3 192.4M322.9 258.1L439.7 193.2M327.3 258.9L444.2 194M331.8 259.8L448.6 194.9M336.2 260.6L453 195.7M340.7 261.4L457.5 196.5M345.1 262.2L461.9 197.3M349.5 263.1L466.4 198.2M354 263.9L470.8 199M358.4 264.7L475.3 199.8M362.9 265.5L479.7 200.6M367.3 266.4L484.1 201.5M371.7 267.2L488.6 202.3M376.2 268L493 203.1M380.6 268.8L497.5 203.9M385.1 269.6L501.9 204.7M389.5 270.5L506.3 205.6M393.9 271.3L510.8 206.4M398.4 272.1L515.2 207.2M402.8 272.9L519.7 208M407.3 273.8L524.1 208.9M411.7 274.6L528.5 209.7M416.1 275.4L533 210.5M420.6 276.2L537.4 211.3M425 277L541.9 212.2M429.5 277.9L546.3 213M433.9 278.7L550.7 213.8M438.3 279.5L555.2 214.6M442.8 280.3L559.6 215.4M447.2 281.2L564.1 216.3M451.7 282L568.5 217.1M456.1 282.8L572.9 217.9M460.6 283.6L577.4 218.7M465 284.5L581.8 219.6M469.4 285.3L586.3 220.4M473.9 286.1L590.7 221.2M478.3 286.9L595.1 222M482.8 287.7L599.6 222.9M487.2 288.6L604 223.7M491.6 289.4L608.5 224.5M496.1 290.2L612.9 225.3M500.5 291L617.3 226.1M505 291.9L621.8 227M509.4 292.7L626.2 227.8M513.8 293.5L630.7 228.6M518.3 294.3L635.1 229.4M522.7 295.2L639.6 230.3M527.2 296L644 231.1M531.6 296.8L648.4 231.9M536 297.6L652.9 232.7M540.5 298.4L657.3 233.6M544.9 299.3L661.8 234.4M549.4 300.1L666.2 235.2M553.8 300.9L670.6 236M558.2 301.7L675.1 236.8M562.7 302.6L679.5 237.7M567.1 303.4L684 238.5M571.6 304.2L688.4 239.3M576 305L692.8 240.1M580.4 305.9L697.3 241"/>
<path d="M214.3 272L458.7 317.3M216.7 270.7L461.1 316M219.1 269.3L463.5 314.6M221.6 268L466 313.3M224 266.6L468.4 311.9M226.4 265.3L470.8 310.6M228.9 263.9L473.3 309.2M231.3 262.6L475.7 307.9M233.7 261.2L478.1 306.5M236.2 259.9L480.6 305.2M238.6 258.5L483 303.8M241 257.2L485.4 302.5M243.5 255.8L487.9 301.1M245.9 254.5L490.3 299.8M248.3 253.1L492.7 298.4M250.8 251.8L495.2 297M253.2 250.4L497.6 295.7M255.6 249L500.1 294.3M258.1 247.7L502.5 293M260.5 246.3L504.9 291.6M262.9 245L507.4 290.3M265.4 243.6L509.8 288.9M267.8 242.3L512.2 287.6M270.2 240.9L514.7 286.2M272.7 239.6L517.1 284.9M275.1 238.2L519.5 283.5M277.5 236.9L522 282.2M280 235.5L524.4 280.8M282.4 234.2L526.8 279.5M284.8 232.8L529.3 278.1M287.3 231.5L531.7 276.8M289.7 230.1L534.1 275.4M292.1 228.8L536.6 274.1M294.6 227.4L539 272.7M297 226.1L541.4 271.4M299.4 224.7L543.9 270M301.9 223.4L546.3 268.7M304.3 222L548.7 267.3M306.8 220.7L551.2 266M309.2 219.3L553.6 264.6M311.6 217.9L556 263.2M314.1 216.6L558.5 261.9M316.5 215.2L560.9 260.5M318.9 213.9L563.3 259.2M321.4 212.5L565.8 257.8M323.8 211.2L568.2 256.5M326.2 209.8L570.6 255.1M328.7 208.5L573.1 253.8M331.1 207.1L575.5 252.4M333.5 205.8L577.9 251.1M336 204.4L580.4 249.7M338.4 203.1L582.8 248.4M340.8 201.7L585.2 247M343.3 200.4L587.7 245.7M345.7 199L590.1 244.3M348.1 197.7L592.5 243M350.6 196.3L595 241.6M353 195L597.4 240.3M355.4 193.6L599.8 238.9M357.9 192.3L602.3 237.6M360.3 190.9L604.7 236.2M362.7 189.6L607.1 234.9M365.2 188.2L609.6 233.5M367.6 186.9L612 232.2M370 185.5L614.4 230.8M372.5 184.1L616.9 229.4M374.9 182.8L619.3 228.1M214.3 272L374.9 182.8M218.5 272.8L379.1 183.6M222.7 273.6L383.3 184.4M226.9 274.4L387.5 185.1M231.1 275.2L391.8 185.9M235.3 275.9L396 186.7M239.5 276.7L400.2 187.5M243.8 277.5L404.4 188.3M248 278.3L408.6 189M252.2 279.1L412.8 189.8M256.4 279.8L417 190.6M260.6 280.6L421.3 191.4M264.8 281.4L425.5 192.2M269 282.2L429.7 193M273.3 283L433.9 193.7M277.5 283.7L438.1 194.5M281.7 284.5L442.3 195.3M285.9 285.3L446.5 196.1M290.1 286.1L450.8 196.9M294.3 286.9L455 197.6M298.5 287.6L459.2 198.4M302.8 288.4L463.4 199.2M307 289.2L467.6 200M311.2 290L471.8 200.8M315.4 290.8L476 201.5M319.6 291.6L480.3 202.3M323.8 292.3L484.5 203.1M328 293.1L488.7 203.9M332.3 293.9L492.9 204.7M336.5 294.7L497.1 205.4M340.7 295.5L501.3 206.2M344.9 296.2L505.5 207M349.1 297L509.8 207.8M353.3 297.8L514 208.6M357.5 298.6L518.2 209.4M361.8 299.4L522.4 210.1M366 300.1L526.6 210.9M370.2 300.9L530.8 211.7M374.4 301.7L535 212.5M378.6 302.5L539.2 213.3M382.8 303.3L543.5 214M387 304.1L547.7 214.8M391.2 304.8L551.9 215.6M395.5 305.6L556.1 216.4M399.7 306.4L560.3 217.2M403.9 307.2L564.5 217.9M408.1 308L568.7 218.7M412.3 308.7L573 219.5M416.5 309.5L577.2 220.3M420.7 310.3L581.4 221.1M425 311.1L585.6 221.8M429.2 311.9L589.8 222.6M433.4 312.6L594 223.4M437.6 313.4L598.2 224.2M441.8 314.2L602.5 225M446 315L606.7 225.8M450.2 315.8L610.9 226.5M454.5 316.5L615.1 227.3M458.7 317.3L619.3 228.1"/>
</g>
<g stroke="#480080" stroke-width="1" fill="none" shape-rendering="crispEdges" clip-path="url(#cb2)">
<path stroke="#38005e" d="M246.6 242.9L583.7 305.4M249.1 241.5L586.2 304M251.7 240.1L588.8 302.6M254.2 238.7L591.4 301.1M256.8 237.2L593.9 299.7M259.4 235.8L596.5 298.3M261.9 234.4L599.1 296.9M264.5 233L601.6 295.4M267.1 231.5L604.2 294M269.6 230.1L606.8 292.6M272.2 228.7L609.3 291.2M274.8 227.3L611.9 289.7M277.3 225.8L614.5 288.3M279.9 224.4L617 286.9M282.5 223L619.6 285.5M285 221.6L622.1 284M287.6 220.1L624.7 282.6M290.2 218.7L627.3 281.2M292.7 217.3L629.8 279.8M295.3 215.9L632.4 278.3M297.9 214.4L635 276.9M300.4 213L637.5 275.5M303 211.6L640.1 274.1M305.5 210.2L642.7 272.6M308.1 208.7L645.2 271.2M310.7 207.3L647.8 269.8M313.2 205.9L650.4 268.4M315.8 204.5L652.9 266.9M318.4 203L655.5 265.5M320.9 201.6L658.1 264.1M323.5 200.2L660.6 262.7M326.1 198.8L663.2 261.2M328.6 197.3L665.7 259.8M331.2 195.9L668.3 258.4M333.8 194.5L670.9 257M336.3 193.1L673.4 255.5M338.9 191.6L676 254.1M341.5 190.2L678.6 252.7M344 188.8L681.1 251.3M346.6 187.4L683.7 249.8M349.1 185.9L686.3 248.4M351.7 184.5L688.8 247M354.3 183.1L691.4 245.6M356.8 181.7L694 244.1M359.4 180.2L696.5 242.7M362 178.8L699.1 241.3M247.4 244.1L364.2 179.2M251.8 245L368.7 180.1M256.3 245.8L373.1 180.9M260.7 246.6L377.6 181.7M265.2 247.4L382 182.5M269.6 248.2L386.4 183.3M274 249.1L390.9 184.2M278.5 249.9L395.3 185M282.9 250.7L399.8 185.8M287.4 251.5L404.2 186.6M291.8 252.4L408.6 187.5M296.3 253.2L413.1 188.3M300.7 254L417.5 189.1M305.1 254.8L422 189.9M309.6 255.7L426.4 190.8M314 256.5L430.8 191.6M318.5 257.3L435.3 192.4M322.9 258.1L439.7 193.2M327.3 258.9L444.2 194M331.8 259.8L448.6 194.9M336.2 260.6L453 195.7M340.7 261.4L457.5 196.5M345.1 262.2L461.9 197.3M349.5 263.1L466.4 198.2M354 263.9L470.8 199M358.4 264.7L475.3 199.8M362.9 265.5L479.7 200.6M367.3 266.4L484.1 201.5M371.7 267.2L488.6 202.3M376.2 268L493 203.1M380.6 268.8L497.5 203.9M385.1 269.6L501.9 204.7M389.5 270.5L506.3 205.6M393.9 271.3L510.8 206.4M398.4 272.1L515.2 207.2M402.8 272.9L519.7 208M407.3 273.8L524.1 208.9M411.7 274.6L528.5 209.7M416.1 275.4L533 210.5M420.6 276.2L537.4 211.3M425 277L541.9 212.2M429.5 277.9L546.3 213M433.9 278.7L550.7 213.8M438.3 279.5L555.2 214.6M442.8 280.3L559.6 215.4M447.2 281.2L564.1 216.3M451.7 282L568.5 217.1M456.1 282.8L572.9 217.9M460.6 283.6L577.4 218.7M465 284.5L581.8 219.6M469.4 285.3L586.3 220.4M473.9 286.1L590.7 221.2M478.3 286.9L595.1 222M482.8 287.7L599.6 222.9M487.2 288.6L604 223.7M491.6 289.4L608.5 224.5M496.1 290.2L612.9 225.3M500.5 291L617.3 226.1M505 291.9L621.8 227M509.4 292.7L626.2 227.8M513.8 293.5L630.7 228.6M518.3 294.3L635.1 229.4M522.7 295.2L639.6 230.3M527.2 296L644 231.1M531.6 296.8L648.4 231.9M536 297.6L652.9 232.7M540.5 298.4L657.3 233.6M544.9 299.3L661.8 234.4M549.4 300.1L666.2 235.2M553.8 300.9L670.6 236M558.2 301.7L675.1 236.8M562.7 302.6L679.5 237.7M567.1 303.4L684 238.5M571.6 304.2L688.4 239.3M576 305L692.8 240.1M580.4 305.9L697.3 241"/>
<path d="M214.3 272L458.7 317.3M216.7 270.7L461.1 316M219.1 269.3L463.5 314.6M221.6 268L466 313.3M224 266.6L468.4 311.9M226.4 265.3L470.8 310.6M228.9 263.9L473.3 309.2M231.3 262.6L475.7 307.9M233.7 261.2L478.1 306.5M236.2 259.9L480.6 305.2M238.6 258.5L483 303.8M241 257.2L485.4 302.5M243.5 255.8L487.9 301.1M245.9 254.5L490.3 299.8M248.3 253.1L492.7 298.4M250.8 251.8L495.2 297M253.2 250.4L497.6 295.7M255.6 249L500.1 294.3M258.1 247.7L502.5 293M260.5 246.3L504.9 291.6M262.9 245L507.4 290.3M265.4 243.6L509.8 288.9M267.8 242.3L512.2 287.6M270.2 240.9L514.7 286.2M272.7 239.6L517.1 284.9M275.1 238.2L519.5 283.5M277.5 236.9L522 282.2M280 235.5L524.4 280.8M282.4 234.2L526.8 279.5M284.8 232.8L529.3 278.1M287.3 231.5L531.7 276.8M289.7 230.1L534.1 275.4M292.1 228.8L536.6 274.1M294.6 227.4L539 272.7M297 226.1L541.4 271.4M299.4 224.7L543.9 270M301.9 223.4L546.3 268.7M304.3 222L548.7 267.3M306.8 220.7L551.2 266M309.2 219.3L553.6 264.6M311.6 217.9L556 263.2M314.1 216.6L558.5 261.9M316.5 215.2L560.9 260.5M318.9 213.9L563.3 259.2M321.4 212.5L565.8 257.8M323.8 211.2L568.2 256.5M326.2 209.8L570.6 255.1M328.7 208.5L573.1 253.8M331.1 207.1L575.5 252.4M333.5 205.8L577.9 251.1M336 204.4L580.4 249.7M338.4 203.1L582.8 248.4M340.8 201.7L585.2 247M343.3 200.4L587.7 245.7M345.7 199L590.1 244.3M348.1 197.7L592.5 243M350.6 196.3L595 241.6M353 195L597.4 240.3M355.4 193.6L599.8 238.9M357.9 192.3L602.3 237.6M360.3 190.9L604.7 236.2M362.7 189.6L607.1 234.9M365.2 188.2L609.6 233.5M367.6 186.9L612 232.2M370 185.5L614.4 230.8M372.5 184.1L616.9 229.4M374.9 182.8L619.3 228.1M214.3 272L374.9 182.8M218.5 272.8L379.1 183.6M222.7 273.6L383.3 184.4M226.9 274.4L387.5 185.1M231.1 275.2L391.8 185.9M235.3 275.9L396 186.7M239.5 276.7L400.2 187.5M243.8 277.5L404.4 188.3M248 278.3L408.6 189M252.2 279.1L412.8 189.8M256.4 279.8L417 190.6M260.6 280.6L421.3 191.4M264.8 281.4L425.5 192.2M269 282.2L429.7 193M273.3 283L433.9 193.7M277.5 283.7L438.1 194.5M281.7 284.5L442.3 195.3M285.9 285.3L446.5 196.1M290.1 286.1L450.8 196.9M294.3 286.9L455 197.6M298.5 287.6L459.2 198.4M302.8 288.4L463.4 199.2M307 289.2L467.6 200M311.2 290L471.8 200.8M315.4 290.8L476 201.5M319.6 291.6L480.3 202.3M323.8 292.3L484.5 203.1M328 293.1L488.7 203.9M332.3 293.9L492.9 204.7M336.5 294.7L497.1 205.4M340.7 295.5L501.3 206.2M344.9 296.2L505.5 207M349.1 297L509.8 207.8M353.3 297.8L514 208.6M357.5 298.6L518.2 209.4M361.8 299.4L522.4 210.1M366 300.1L526.6 210.9M370.2 300.9L530.8 211.7M374.4 301.7L535 212.5M378.6 302.5L539.2 213.3M382.8 303.3L543.5 214M387 304.1L547.7 214.8M391.2 304.8L551.9 215.6M395.5 305.6L556.1 216.4M399.7 306.4L560.3 217.2M403.9 307.2L564.5 217.9M408.1 308L568.7 218.7M412.3 308.7L573 219.5M416.5 309.5L577.2 220.3M420.7 310.3L581.4 221.1M425 311.1L585.6 221.8M429.2 311.9L589.8 222.6M433.4 312.6L594 223.4M437.6 313.4L598.2 224.2M441.8 314.2L602.5 225M446 315L606.7 225.8M450.2 315.8L610.9 226.5M454.5 316.5L615.1 227.3M458.7 317.3L619.3 228.1"/>
</g>
<g stroke="#50009a" stroke-width="1" fill="none" shape-rendering="crispEdges" clip-path="url(#cb3)">
<path d="M214.3 272L458.7 317.3M216.7 270.7L461.1 316M219.1 269.3L463.5 314.6M221.6 268L466 313.3M224 266.6L468.4 311.9M226.4 265.3L470.8 310.6M228.9 263.9L473.3 309.2M231.3 262.6L475.7 307.9M233.7 261.2L478.1 306.5M236.2 259.9L480.6 305.2M238.6 258.5L483 303.8M241 257.2L485.4 302.5M243.5 255.8L487.9 301.1M245.9 254.5L490.3 299.8M248.3 253.1L492.7 298.4M250.8 251.8L495.2 297M253.2 250.4L497.6 295.7M255.6 249L500.1 294.3M258.1 247.7L502.5 293M260.5 246.3L504.9 291.6M262.9 245L507.4 290.3M265.4 243.6L509.8 288.9M267.8 242.3L512.2 287.6M270.2 240.9L514.7 286.2M272.7 239.6L517.1 284.9M275.1 238.2L519.5 283.5M277.5 236.9L522 282.2M280 235.5L524.4 280.8M282.4 234.2L526.8 279.5M284.8 232.8L529.3 278.1M287.3 231.5L531.7 276.8M289.7 230.1L534.1 275.4M292.1 228.8L536.6 274.1M294.6 227.4L539 272.7M297 226.1L541.4 271.4M299.4 224.7L543.9 270M301.9 223.4L546.3 268.7M304.3 222L548.7 267.3M306.8 220.7L551.2 266M309.2 219.3L553.6 264.6M311.6 217.9L556 263.2M314.1 216.6L558.5 261.9M316.5 215.2L560.9 260.5M318.9 213.9L563.3 259.2M321.4 212.5L565.8 257.8M323.8 211.2L568.2 256.5M326.2 209.8L570.6 255.1M328.7 208.5L573.1 253.8M331.1 207.1L575.5 252.4M333.5 205.8L577.9 251.1M336 204.4L580.4 249.7M338.4 203.1L582.8 248.4M340.8 201.7L585.2 247M343.3 200.4L587.7 245.7M345.7 199L590.1 244.3M348.1 197.7L592.5 243M350.6 196.3L595 241.6M353 195L597.4 240.3M355.4 193.6L599.8 238.9M357.9 192.3L602.3 237.6M360.3 190.9L604.7 236.2M362.7 189.6L607.1 234.9M365.2 188.2L609.6 233.5M367.6 186.9L612 232.2M370 185.5L614.4 230.8M372.5 184.1L616.9 229.4M374.9 182.8L619.3 228.1M214.3 272L374.9 182.8M218.5 272.8L379.1 183.6M222.7 273.6L383.3 184.4M226.9 274.4L387.5 185.1M231.1 275.2L391.8 185.9M235.3 275.9L396 186.7M239.5 276.7L400.2 187.5M243.8 277.5L404.4 188.3M248 278.3L408.6 189M252.2 279.1L412.8 189.8M256.4 279.8L417 190.6M260.6 280.6L421.3 191.4M264.8 281.4L425.5 192.2M269 282.2L429.7 193M273.3 283L433.9 193.7M277.5 283.7L438.1 194.5M281.7 284.5L442.3 195.3M285.9 285.3L446.5 196.1M290.1 286.1L450.8 196.9M294.3 286.9L455 197.6M298.5 287.6L459.2 198.4M302.8 288.4L463.4 199.2M307 289.2L467.6 200M311.2 290L471.8 200.8M315.4 290.8L476 201.5M319.6 291.6L480.3 202.3M323.8 292.3L484.5 203.1M328 293.1L488.7 203.9M332.3 293.9L492.9 204.7M336.5 294.7L497.1 205.4M340.7 295.5L501.3 206.2M344.9 296.2L505.5 207M349.1 297L509.8 207.8M353.3 297.8L514 208.6M357.5 298.6L518.2 209.4M361.8 299.4L522.4 210.1M366 300.1L526.6 210.9M370.2 300.9L530.8 211.7M374.4 301.7L535 212.5M378.6 302.5L539.2 213.3M382.8 303.3L543.5 214M387 304.1L547.7 214.8M391.2 304.8L551.9 215.6M395.5 305.6L556.1 216.4M399.7 306.4L560.3 217.2M403.9 307.2L564.5 217.9M408.1 308L568.7 218.7M412.3 308.7L573 219.5M416.5 309.5L577.2 220.3M420.7 310.3L581.4 221.1M425 311.1L585.6 221.8M429.2 311.9L589.8 222.6M433.4 312.6L594 223.4M437.6 313.4L598.2 224.2M441.8 314.2L602.5 225M446 315L606.7 225.8M450.2 315.8L610.9 226.5M454.5 316.5L615.1 227.3M458.7 317.3L619.3 228.1"/>
</g>
<g stroke-width="1" fill="none" shape-rendering="crispEdges">
<path stroke="#2c003a" d="M301.3 281.2L305.6 262.3M301.3 281.2L303.8 260.1M303.1 283.3L305.6 262.3M304.9 285.4L309.1 266.5M304.9 285.4L307.3 264.4M306.7 287.6L309.1 266.5M308.5 289.7L312.7 270.8M310.2 291.8L312.7 270.8M314.5 292.6L316.9 271.6M316.2 294.8L320.4 275.8M316.2 294.8L318.7 273.7M318 296.9L320.4 275.8M322.2 297.7L324.7 276.6M326.4 298.4L328.9 277.4M328.2 300.6L330.7 279.5M332.4 301.4L334.9 280.3M336.6 302.1L339.1 281.1M340.9 302.9L343.3 281.9M345.1 303.7L349.3 284.8M345.1 303.7L347.5 282.7M346.9 305.8L349.3 284.8M351.1 306.6L353.5 285.6M353.1 308.6L357.7 286.3M357.7 286.3L365.7 307.5M359.7 308L364.4 285.8M364 308.8L368.6 286.6M368.2 309.6L372.8 287.3M372.4 310.4L377 288.1M376.6 311.2L381.2 288.9M381.2 288.9L389.2 310.1M383.2 310.6L387.9 288.3M387.5 311.4L392.1 289.1M391.7 312.2L396.3 289.9M396.3 289.9L404.3 311.1M398.3 311.6L402.9 289.3M402.5 312.4L407.2 290.1M407.2 290.1L415.2 311.3M409.2 311.8L413.8 289.5M413.8 289.5L421.8 310.7M415.8 311.2L420.5 289M420 312L424.7 289.7M424.7 289.7L432.7 310.9M426.7 311.4L431.3 289.2M431.3 289.2L439.3 310.4M433.3 310.9L438 288.6M438 288.6L446 309.8M440 310.3L444.6 288M444.6 288L452.6 309.2M447 286.7L455.1 307.9M449.1 308.4L453.7 286.1M453.7 286.1L461.7 307.3M509.7 255L517.7 276.2M455.7 307.8L460.3 285.5M460.3 285.5L468.4 306.7M462.8 284.2L470.8 305.4M509 258.5L517 279.7M511.5 257.1L519.5 278.3M511.5 257.1L516.1 274.3M464.8 305.9L469.4 283.6M469.4 283.6L477.4 304.8M474.3 280.9L482.3 302.1M508.4 262L516.4 283.2M510.8 260.6L518.8 281.8M510.8 260.6L515.4 277.8M476.3 302.6L480.9 280.3M480.9 280.3L488.9 301.5M483.4 279L491.4 300.2M485.8 277.6L493.8 298.8M488.2 276.3L496.3 297.5M493.1 273.6L501.1 294.8M495.5 272.2L503.6 293.4M498 270.9L506 292.1M500.4 269.5L508.4 290.7M502.8 268.2L510.9 289.3M505.3 266.8L513.3 288M507.7 265.5L515.7 286.6M510.2 264.1L518.2 285.3M510.2 264.1L514.8 281.2"/>
<path stroke="#48007a" d="M471.9 273.7L479.9 303.4"/>
<path stroke="#500094" d="M308.5 289.7L310.9 253.1"/>
<path stroke="#5500a3" d="M426 270L430.2 310.3M426 270L423.6 310.8"/>
<path stroke="#5a00b4" d="M360 262L357.6 307.8"/>
<path stroke="#5c01bc" d="M297.8 276.9L302 230.8M299.6 279L302 230.8"/>
<path stroke="#5d01be" d="M490.7 247L498.7 296.1"/>
<path stroke="#5e01bf" d="M467.6 281.5L471.9 273.7M469.4 283.6L471.9 273.7M471.9 273.7L474.3 280.9"/>
<path stroke="#6001c7" d="M436 212L438.3 224.3M436 212L433.6 224.9"/>
<path stroke="#6101ca" d="M495 243L499.2 295.8"/>
<path stroke="#6201cd" d="M505 236L509.2 289.9"/>
<path stroke="#6401d2" d="M310.9 253.1L313.2 269.4M310.9 253.1L313.3 267.3"/>
<path stroke="#6701da" d="M471 245L475.2 303.9M471 245L468.6 304.5"/>
<path stroke="#6801dc" d="M426 270L423.7 289M426 270L428.4 288.4"/>
<path stroke="#6b01e3" d="M508 224L512.2 287.3"/>
<path stroke="#6c01e6" d="M513.5 232L511.2 255.5M513.5 232L511.1 257.6"/>
<path stroke="#6c01e7" d="M360 262L362.3 287.6M360 262L357.7 286M360 262L362.4 285.4"/>
<path stroke="#6d02e8" d="M391.4 244.7L395.6 310.4M391.4 244.7L389 311"/>
<path stroke="#6e02eb" d="M302 230.8L304.3 258.8M302 230.8L304.4 256.6"/>
<path stroke="#6f02ec" d="M488.4 274.1L490.7 247M488.2 276.3L490.7 247M490.7 247L493.1 273.6"/>
<path stroke="#6f02ee" d="M342 200.7L344.3 230.2M342 200.7L339.6 230.7"/>
<path stroke="#7002ef" d="M421 193L423.3 223.3M421 193L418.6 223.9"/>
<path stroke="#7202f3" d="M495 243L492.7 274.5M495 243L497.4 274M495 243L492.6 276.7"/>
<path stroke="#7302f5" d="M505 236L502.7 268.6M505 236L507.4 268M505 236L502.6 270.7"/>
<path stroke="#7402f5" d="M452.8 233.5L457 307.5M452.8 233.5L450.4 308"/>
<path stroke="#7703fa" d="M471 245L468.7 282.7M471 245L473.4 282.1"/>
<path stroke="#7803fb" d="M500.5 213.5L504.7 292.9"/>
<path stroke="#7903fc" d="M318.5 214L314.3 293.9M318.5 214L316.1 296.1"/>
<path stroke="#7a03fc" d="M343 222L340.6 304.5"/>
<path stroke="#7a03fd" d="M508 224L505.7 266M508 224L510.4 265.4M508 224L505.6 268.1"/>
<path stroke="#7b03fd" d="M413.7 227.3L417.9 310.7M413.7 227.3L411.3 311.3"/>
<path stroke="#7b03fe" d="M480.7 217.5L484.9 301.3M480.7 217.5L478.3 301.8"/>
<path stroke="#7c03fe" d="M307.5 204L303.3 286.9M307.5 204L305.1 289.1M331.2 187.5L333.5 233.3M331.2 187.5L328.8 233.8M391.4 244.7L389.1 289.2M391.4 244.7L393.8 288.6"/>
<path stroke="#7d04ff" d="M330.2 186L332.5 233.6M330.2 186L327.8 234.2M399.8 175.6L402.1 223.1M399.8 175.6L397.4 223.7"/>
<path stroke="#7e04ff" d="M512.2 193.5L516.4 281.3M512.2 193.5L514.6 279.2"/>
<path stroke="#8004ff" d="M511.2 192L515.4 283.3M511.2 192L513.6 281.2"/>
<path stroke="#8205fe" d="M452.8 233.5L450.5 286.2M452.8 233.5L455.2 285.6"/>
<path stroke="#8305fe" d="M377.6 214L381.8 309.5M377.6 214L375.2 310"/>
<path stroke="#8505fc" d="M376.7 211L380.9 309.4M376.7 211L374.3 309.9"/>
<path stroke="#8605fc" d="M500.5 213.5L498.2 271.6M500.5 213.5L502.9 271.1M500.5 213.5L498.1 273.8"/>
<path stroke="#8706fa" d="M318.5 214L320.8 275.8M318.5 214L320.9 273.7"/>
<path stroke="#8806f8" d="M360.6 163L362.9 226.5M360.6 163L358.2 227"/>
<path stroke="#8806fa" d="M343 222L345.3 284.2M343 222L340.7 282.6M343 222L345.4 282"/>
<path stroke="#8906f7" d="M307.5 204L309.8 268.8M307.5 204L309.9 266.7M359.6 162L361.9 226.6M359.6 162L357.2 227.2"/>
<path stroke="#8906f8" d="M480.7 217.5L478.4 280M480.7 217.5L483.1 279.4M413.7 227.3L411.4 289.5M413.7 227.3L416.1 288.9"/>
<path stroke="#8a0ed0" d="M311.3 164L313.6 271.7M311.3 164L307.1 289.8M311.3 164L313.7 269.6M311.3 164L308.9 292M300.3 162L299.6 276"/>
<path stroke="#8b07f4" d="M325 192L320.8 296.8M325 192L322.6 298.9"/>
<path stroke="#8c07f3" d="M512.2 193.5L509.9 260.1M512.2 193.5L509.8 262.2"/>
<path stroke="#8e08ee" d="M511.2 192L508.9 262M511.2 192L508.8 264.2"/>
<path stroke="#9008e6" d="M377.6 214L375.3 288.2M377.6 214L380 287.6"/>
<path stroke="#9209e0" d="M376.7 211L374.4 288.1M376.7 211L379.1 287.5"/>
<path stroke="#9414b4" d="M301.3 139L303.6 259.7M301.3 139L297.1 277.8M301.3 139L303.7 257.5M301.3 139L298.9 279.9"/>
<path stroke="#970bcd" d="M325 192L327.3 278.6M325 192L327.4 276.5"/>
<path stroke="#9a14b0" d="M334.4 173.5L336.7 281.8M334.4 173.5L330.2 300M334.4 173.5L336.8 279.7M334.4 173.5L332 302.1"/>
<path stroke="#a81a86" d="M312.3 150.7L314.6 272.3M312.3 150.7L308.1 290.5M312.3 150.7L314.7 270.2M312.3 150.7L309.9 292.6"/>
<path stroke="#a91f5c" d="M303.4 106.8L305.7 264.3M303.4 106.8L299.2 282.4M303.4 106.8L305.8 262.1M303.4 106.8L301 284.5"/>
<path stroke="#b0263c" d="M305.2 183L306 284"/>
<path stroke="#d26000" d="M304.6 118.6L305.2 183M305.6 147L305.6 156"/>
</g>
<g shape-rendering="crispEdges" stroke="#6a00e6" stroke-width="1" fill="none">
<path d="M329 341.5l2.5 -1l2.5 0l1 1l-2.5 1l-2.5 0z"/>
<path fill="#6a00e6" d="M339 338.8l2.5 -1l2.5 0l1 1l-2.5 1l-2.5 0z"/>
<path fill="#6a00e6" d="M357.5 335l2.5 -1l2.5 0l1 1l-2.5 1l-2.5 0z"/>
<path d="M397.5 331.4l2.5 -1l2.5 0l1 1l-2.5 1l-2.5 0z"/>
<path d="M302 356l2.5 -1l2.5 0l1 1l-2.5 1l-2.5 0z"/>
<path stroke="#b0201c" d="M303.5 356l4 0"/>
<path fill="#6a00e6" d="M300.5 360l2.5 -1l2.5 0l1 1l-2.5 1l-2.5 0z"/>
<path fill="#6a00e6" d="M298.8 367.5l2.5 -1l2.5 0l1 1l-2.5 1l-2.5 0z"/>
<path stroke="#b0201c" d="M300.3 367.5l4 0"/>
<path fill="#6a00e6" d="M309.7 380.4l2.5 -1l2.5 0l1 1l-2.5 1l-2.5 0z"/>
<path stroke="#b0201c" d="M311.2 380.4l4 0"/>
<path fill="#6a00e6" d="M321.5 386.3l2.5 -1l2.5 0l1 1l-2.5 1l-2.5 0z"/>
<path fill="#6a00e6" d="M332 389.6l2.5 -1l2.5 0l1 1l-2.5 1l-2.5 0z"/>
<path fill="#6a00e6" d="M373.5 397.5l2.5 -1l2.5 0l1 1l-2.5 1l-2.5 0z"/>
<path d="M389 398.4l2.5 -1l2.5 0l1 1l-2.5 1l-2.5 0z"/>
<path fill="#6a00e6" d="M410 399l2.5 -1l2.5 0l1 1l-2.5 1l-2.5 0z"/>
<path d="M450.4 395.2l2.5 -1l2.5 0l1 1l-2.5 1l-2.5 0z"/>
<path fill="#6a00e6" d="M468 391.5l2.5 -1l2.5 0l1 1l-2.5 1l-2.5 0z"/>
<path d="M478 389l2.5 -1l2.5 0l1 1l-2.5 1l-2.5 0z"/>
<path fill="#6a00e6" d="M508.5 363.2l2.5 -1l2.5 0l1 1l-2.5 1l-2.5 0z"/>
<path fill="#6a00e6" d="M504.2 374.6l2.5 -1l2.5 0l1 1l-2.5 1l-2.5 0z"/>
<path d="M497.3 350.2l2.5 -1l2.5 0l1 1l-2.5 1l-2.5 0z"/>
<path fill="#6a00e6" d="M506.9 369.8l2.5 -1l2.5 0l1 1l-2.5 1l-2.5 0z"/>
</g>
<rect x="682.5" y="107.5" width="27" height="159.5" fill="url(#cbg)" stroke="#000" stroke-width="1" shape-rendering="crispEdges"/>
<g stroke="#000" stroke-width="1" shape-rendering="crispEdges">
<path d="M683 240.5h6M709 240.5h-6"/>
<path d="M683 213.5h6M709 213.5h-6"/>
<path d="M683 187.5h6M709 187.5h-6"/>
<path d="M683 160.5h6M709 160.5h-6"/>
<path d="M683 134.5h6M709 134.5h-6"/>
</g>
<rect x="698" y="41" width="41" height="1" fill="url(#lg)" shape-rendering="crispEdges"/>
</svg>
<div class="t" style="font-size:13.33px;letter-spacing:0.37px;top:-2.8px;left:209.9px;width:400px;text-align:center;">Skynet_56725_CAS-A_7979_8539</div>
<div class="t" style="font-size:13.33px;letter-spacing:0.25px;top:34.1px;right:86px;text-align:right;">1395.0 MHz LL</div>
<div class="t" style="font-size:13.33px;letter-spacing:0.25px;top:118.2px;right:706.5px;text-align:right;">30</div>
<div class="t" style="font-size:13.33px;letter-spacing:0.25px;top:100.7px;left:722.3px;">30</div>
<div class="t" style="font-size:13.33px;letter-spacing:0.25px;top:147.8px;right:706.5px;text-align:right;">25</div>
<div class="t" style="font-size:13.33px;letter-spacing:0.25px;top:127.2px;left:722.3px;">25</div>
<div class="t" style="font-size:13.33px;letter-spacing:0.25px;top:177.5px;right:706.5px;text-align:right;">20</div>
<div class="t" style="font-size:13.33px;letter-spacing:0.25px;top:153.8px;left:722.3px;">20</div>
<div class="t" style="font-size:13.33px;letter-spacing:0.25px;top:207.1px;right:706.5px;text-align:right;">15</div>
<div class="t" style="font-size:13.33px;letter-spacing:0.25px;top:180.3px;left:722.3px;">15</div>
<div class="t" style="font-size:13.33px;letter-spacing:0.25px;top:236.8px;right:706.5px;text-align:right;">10</div>
<div class="t" style="font-size:13.33px;letter-spacing:0.25px;top:206.8px;left:722.3px;">10</div>
<div class="t" style="font-size:13.33px;letter-spacing:0.25px;top:266.4px;right:706.5px;text-align:right;">5</div>
<div class="t" style="font-size:13.33px;letter-spacing:0.25px;top:233.4px;left:722.3px;">5</div>
<div class="t" style="font-size:13.33px;letter-spacing:0.25px;top:296px;right:706.5px;text-align:right;">0</div>
<div class="t" style="font-size:13.33px;letter-spacing:0.25px;top:259.9px;left:722.3px;">0</div>
<div class="t" style="font-size:13.33px;letter-spacing:0.25px;top:187.7px;right:710.2px;text-align:right;">Intensity (K)</div>
<div class="t" style="font-size:13.33px;letter-spacing:0.25px;top:401.4px;left:-96.4px;width:400px;text-align:center;">10</div>
<div class="t" style="font-size:13.33px;letter-spacing:0.25px;top:409.2px;left:-54.5px;width:400px;text-align:center;">20</div>
<div class="t" style="font-size:13.33px;letter-spacing:0.25px;top:416.9px;left:-12.6px;width:400px;text-align:center;">30</div>
<div class="t" style="font-size:13.33px;letter-spacing:0.25px;top:424.6px;left:29.3px;width:400px;text-align:center;">40</div>
<div class="t" style="font-size:13.33px;letter-spacing:0.25px;top:432.3px;left:71.2px;width:400px;text-align:center;">50</div>
<div class="t" style="font-size:13.33px;letter-spacing:0.25px;top:439.4px;left:114.1px;width:400px;text-align:center;">60</div>
<div class="t" style="font-size:13.33px;letter-spacing:0.25px;top:447.2px;left:156px;width:400px;text-align:center;">70</div>
<div class="t" style="font-size:13.33px;letter-spacing:0.25px;top:454.9px;left:197.9px;width:400px;text-align:center;">80</div>
<div class="t" style="font-size:13.33px;letter-spacing:0.25px;top:462.6px;left:239.8px;width:400px;text-align:center;">90</div>
<div class="t" style="font-size:13.33px;letter-spacing:0.25px;top:470.9px;left:278.7px;width:400px;text-align:center;">100</div>
<div class="t" style="font-size:13.33px;letter-spacing:0.44px;top:457.6px;left:30.5px;width:400px;text-align:center;">RA Offset (Cells=1.00')</div>
<div class="t" style="font-size:13.33px;letter-spacing:0.25px;top:454.2px;left:340.6px;width:400px;text-align:center;">10</div>
<div class="t" style="font-size:13.33px;letter-spacing:0.25px;top:440.7px;left:365px;width:400px;text-align:center;">20</div>
<div class="t" style="font-size:13.33px;letter-spacing:0.25px;top:427.1px;left:389.4px;width:400px;text-align:center;">30</div>
<div class="t" style="font-size:13.33px;letter-spacing:0.25px;top:413.6px;left:413.8px;width:400px;text-align:center;">40</div>
<div class="t" style="font-size:13.33px;letter-spacing:0.25px;top:400.1px;left:438.2px;width:400px;text-align:center;">50</div>
<div class="t" style="font-size:13.33px;letter-spacing:0.25px;top:386.5px;left:462.6px;width:400px;text-align:center;">60</div>
<div class="t" style="font-size:13.33px;letter-spacing:0.25px;top:372.9px;left:487px;width:400px;text-align:center;">70</div>
<div class="t" style="font-size:13.33px;letter-spacing:0.25px;top:359.4px;left:511.4px;width:400px;text-align:center;">80</div>
<div class="t" style="font-size:13.33px;letter-spacing:0.25px;top:345.9px;left:535.8px;width:400px;text-align:center;">90</div>
<div class="t" style="font-size:13.33px;letter-spacing:0.25px;top:332.3px;left:563.7px;width:400px;text-align:center;">100</div>
<div class="t" style="font-size:13.33px;letter-spacing:0.4px;top:415.9px;left:669.2px;">Dec Offset (cells)</div>
</body></html>
